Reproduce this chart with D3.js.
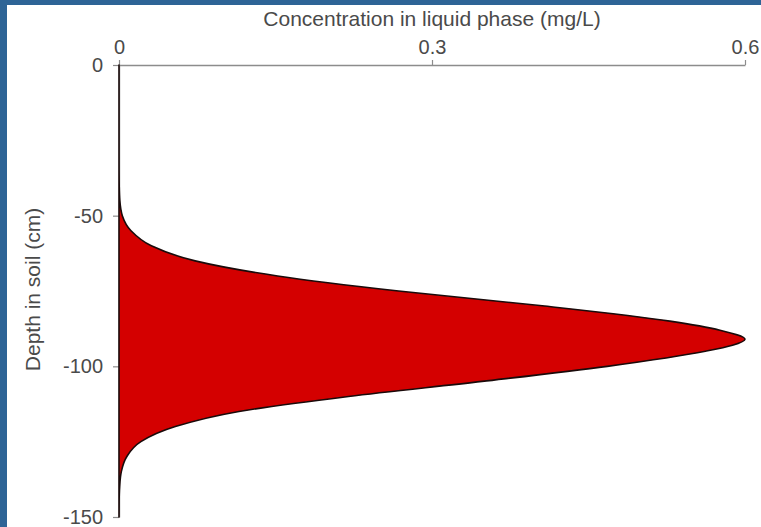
<!DOCTYPE html>
<html>
<head>
<meta charset="utf-8">
<script src="https://cdn.jsdelivr.net/npm/d3@7"></script>
<style>
  html, body { margin: 0; padding: 0; background: #2e6496; }
  svg { display: block; }
  text { font-family: "Liberation Sans", Arial, sans-serif; fill: #4a4a4a; }
</style>
</head>
<body>
<svg id="chart" width="761" height="527"></svg>
<script>
// Depth profile of solute concentration in the soil liquid phase
const depthCm = [0, -30, -35, -40, -45, -50, -55, -60, -65, -70, -75, -80, -85, -88, -91,
  -93, -95, -100, -105, -110, -115, -120, -125, -130, -135, -140, -145, -150];
const concMgL = [0, 0, 0.00003, 0.0002, 0.0008, 0.0032, 0.0115, 0.031, 0.073, 0.152, 0.268, 0.408, 0.528, 0.576, 0.600,
  0.588, 0.562, 0.468, 0.348, 0.220, 0.115, 0.054, 0.021, 0.0074, 0.0022, 0.0006, 0.0001, 0];
const xTicks = [0, 0.3, 0.6];
const yTicks = [0, -50, -100, -150];
const xTitle = "Concentration in liquid phase (mg/L)";
const yTitle = "Depth in soil (cm)";

const profile = depthCm.map((d, i) => ({ depth: d, conc: concMgL[i] }));

const svg = d3.select("#chart");

// white panel inside the blue frame
svg.append("rect").attr("x", 7).attr("y", 5).attr("width", 754).attr("height", 522).attr("fill", "#ffffff");

const x = d3.scaleLinear().domain([0, 0.6]).range([119, 745]);
const y = d3.scaleLinear().domain([0, -150]).range([65, 517]);

// filled profile between the depth axis and the concentration curve
const area = d3.area()
  .y(d => y(d.depth))
  .x0(x(0))
  .x1(d => x(d.conc))
  .curve(d3.curveMonotoneY);

const fmt = d => String(d);
const xAxis = d3.axisTop(x).tickValues(xTicks).tickFormat(fmt).tickSize(5).tickSizeOuter(0).tickPadding(6);
const yAxis = d3.axisLeft(y).tickValues(yTicks).tickFormat(fmt).tickSize(6).tickSizeOuter(0).tickPadding(10);

const gx = svg.append("g").attr("transform", `translate(0,${y(0)})`).call(xAxis);
const gy = svg.append("g").attr("transform", `translate(${x(0)},0)`).call(yAxis);

[gx, gy].forEach(g => {
  g.selectAll(".domain").attr("stroke", "#8c8c8c").attr("stroke-width", 1.4);
  g.selectAll(".tick line").attr("stroke", "#8c8c8c").attr("stroke-width", 1.2);
  g.selectAll(".tick text").style("font-size", "20px").attr("fill", "#4a4a4a");
});

svg.append("path")
  .datum(profile)
  .attr("d", area)
  .attr("fill", "#d40000")
  .attr("stroke", "#1a0a0a")
  .attr("stroke-width", 1.6)
  .attr("stroke-linejoin", "round");

svg.append("text")
  .attr("x", (x(0) + x(0.6)) / 2)
  .attr("y", 26)
  .attr("text-anchor", "middle")
  .style("font-size", "21px")
  .text(xTitle);

svg.append("text")
  .attr("transform", `translate(40,${y(-74.5)}) rotate(-90)`)
  .attr("text-anchor", "middle")
  .style("font-size", "21px")
  .text(yTitle);
</script>
</body>
</html>
